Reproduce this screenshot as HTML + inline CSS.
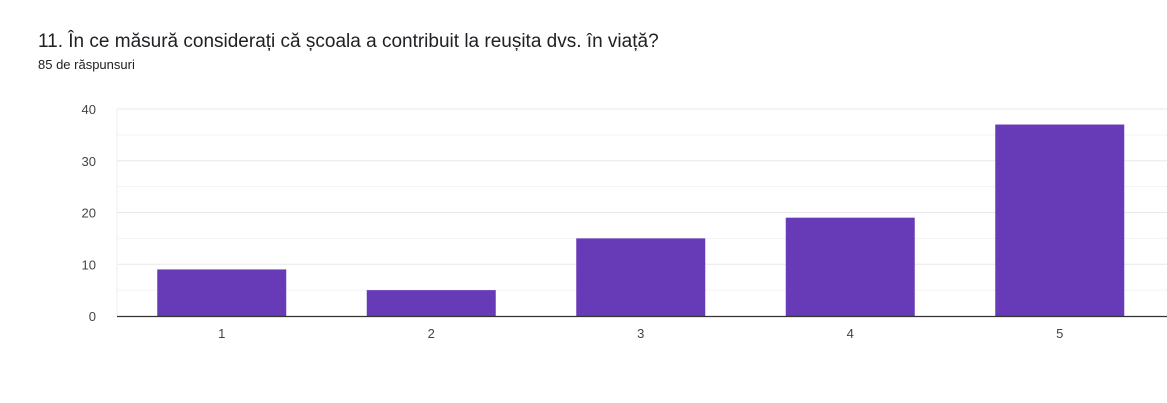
<!DOCTYPE html>
<html><head><meta charset="utf-8"><style>
body{margin:0;width:1167px;height:403px;background:#fff;overflow:hidden;font-family:"Liberation Sans",sans-serif;}
svg{position:absolute;left:0;top:0}
</style></head><body>
<svg width="1167" height="403">
<text x="38" y="47" font-size="19" fill="#202124">11. În ce măsură considerați că școala a contribuit la reușita dvs. în viață?</text>
<text x="38" y="69" font-size="13" fill="#202124">85 de răspunsuri</text>
<g id="grid"></g><g id="bars"></g><g id="axes"></g>
</svg>
<script>
const categories=["1","2","3","4","5"];
const values=[9,5,15,19,37];
const yTicks=[0,10,20,30,40];
const ns="http://www.w3.org/2000/svg";
const x0=117,band=209.5,y0=316,yTop=109,yMax=40;
const y=v=>y0-(v/yMax)*(y0-yTop);
const xc=i=>x0+band*(i+0.5);
function mk(t,a,p){const e=document.createElementNS(ns,t);for(const k in a)e.setAttribute(k,a[k]);p.appendChild(e);return e;}
const grid=document.getElementById('grid'),bars=document.getElementById('bars'),axes=document.getElementById('axes');
for(let v=5;v<=yMax;v+=5){
  const l=mk('line',{x1:x0,x2:1167,y1:y(v),y2:y(v),stroke:v%10===0?'#e8e8e8':'#f3f3f3','stroke-width':1},grid);
  
  
}
mk('line',{x1:x0,x2:x0,y1:yTop,y2:y0,stroke:'#eeeeee'},grid);
yTicks.forEach(v=>{
  const t=mk('text',{x:96,y:y(v)+5,'text-anchor':'end','font-size':13,fill:'#444'},axes);
  t.textContent=v;
  
  
});
values.forEach((v,i)=>{
  const r=mk('rect',{x:xc(i)-64.5,y:y(v),width:129,height:y0-y(v),fill:'#673ab7'},bars);
  
  
  const t=mk('text',{x:xc(i),y:338,'text-anchor':'middle','font-size':13,fill:'#444'},axes);
  t.textContent=categories[i];
  
  
});
const ax=mk('line',{x1:x0,x2:1167,y1:y0+0.5,y2:y0+0.5,stroke:'#333','stroke-width':1.2},axes);


</script>
</body></html>
